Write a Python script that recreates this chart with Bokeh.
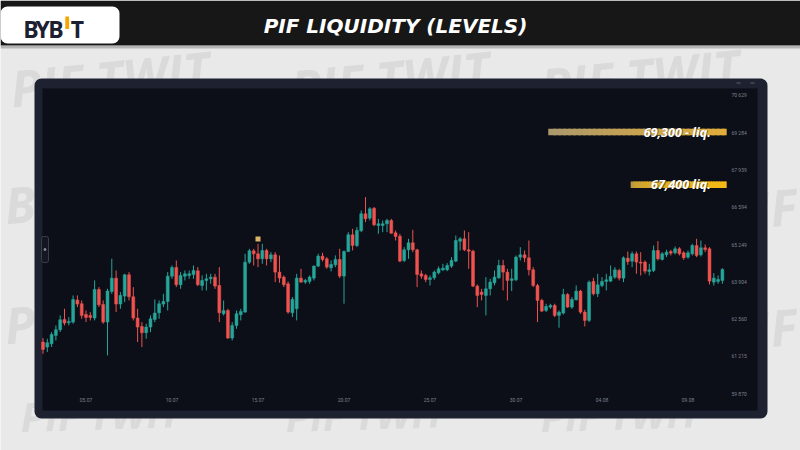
import numpy as np
import pandas as pd
from bokeh.plotting import figure
from bokeh.models import (Range1d, LinearAxis, DatetimeAxis, FixedTicker,
                          DatetimeTickFormatter, ColumnDataSource)
from bokeh.core.properties import value
from bokeh.embed import file_html
from bokeh.resources import INLINE

# ---------------- data ----------------
candle_start = "2024-07-02 12:00"
candle_step = "6h"

opens = [61734, 61554, 61674, 61974, 62178, 62550, 62430, 62454, 63246, 63114,
         62730, 62694, 62598, 63630, 63090, 62454, 63558, 64038, 63102, 63390,
         64158, 63366, 62598, 62298, 62070, 62274, 62550, 62790, 63102, 63198,
         64110, 64422, 63798, 64110, 64134, 64170, 64302, 63774, 63954, 64014,
         64074, 63774, 62754, 62874, 61878, 62334, 62718, 62814, 64614, 65022,
         64914, 64734, 65034, 64734, 64879, 64255, 64075, 63835, 62791, 62935,
         64039, 63895, 63919, 64039, 64471, 64831, 64735, 64411, 64519, 64711,
         64111, 64999, 65599, 65215, 65743, 66355, 66199, 66559, 65935, 65935,
         65995, 66114, 65670, 65550, 64674, 65058, 65310, 65058, 64194, 64134,
         63990, 64050, 64230, 64338, 64338, 64470, 64650, 65370, 65454, 65058,
         65010, 63750, 63534, 63414, 63654, 63870, 64050, 64494, 64254, 63954,
         63978, 64794, 64878, 64770, 64338, 63774, 63234, 62874, 62994, 63054,
         62694, 62778, 63450, 62994, 63258, 63570, 62814, 62514, 63918, 63474,
         63774, 63918, 63930, 64074, 64314, 64038, 64758, 64650, 64914, 64614,
         64614, 64278, 64314, 65034, 64710, 64878, 64998, 64950, 65094, 64950,
         64794, 64914, 65214, 64878, 65130, 65094, 63894, 63918, 63954]
highs = [61878, 61854, 62094, 62334, 62694, 62934, 62634, 63414, 63414, 63234,
         62874, 62814, 63954, 63714, 63234, 63654, 64734, 64314, 63534, 64194,
         64254, 63714, 62934, 62454, 62394, 62694, 63270, 63234, 63474, 64254,
         64494, 64674, 64254, 64314, 64314, 64494, 64434, 64134, 64194, 64194,
         64194, 64434, 63234, 62934, 62454, 62874, 62934, 64914, 65094, 65094,
         65274, 65274, 65094, 64974, 64975, 64855, 64135, 63919, 63355, 64195,
         64375, 64015, 64135, 64495, 64915, 64951, 64795, 64675, 64855, 65095,
         65035, 65695, 65815, 65875, 66475, 66955, 66595, 66595, 66175, 66115,
         66175, 66174, 65754, 65634, 65154, 65454, 65778, 65094, 64314, 64194,
         64134, 64314, 64458, 64554, 64578, 64794, 65574, 65514, 65754, 65694,
         65058, 63810, 63654, 64074, 64014, 64314, 64698, 64698, 64374, 64374,
         64854, 65154, 65034, 65394, 64434, 63834, 63294, 63114, 63114, 63114,
         62874, 63654, 63498, 63354, 63774, 63618, 62898, 63954, 64050, 64194,
         64074, 64194, 64494, 64434, 64374, 64818, 64998, 64998, 64998, 64974,
         64674, 64554, 65214, 65370, 64974, 65058, 65058, 65178, 65154, 65010,
         65034, 65274, 65454, 65394, 65250, 65154, 64218, 64134, 64398]
lows = [61314, 61374, 61554, 61794, 62094, 62334, 62334, 62394, 62994, 62574,
        62454, 62514, 62514, 62994, 62394, 61254, 63474, 62814, 62934, 63174,
        63234, 62514, 61734, 61554, 61854, 62094, 62454, 62574, 62994, 62874,
        64014, 63714, 63654, 63954, 64014, 64014, 63750, 63594, 63594, 63834,
        63654, 62454, 62694, 61854, 61794, 62214, 62514, 62790, 64554, 64494,
        64434, 64554, 64494, 64614, 63895, 63871, 63715, 62755, 62635, 62515,
        63871, 63835, 63835, 63955, 64435, 64639, 64375, 64279, 64435, 64039,
        63115, 64975, 65035, 65155, 65695, 66055, 66115, 65911, 65635, 65695,
        65695, 65634, 65394, 64614, 64614, 64734, 64974, 63714, 64014, 63894,
        63774, 63978, 64170, 64290, 64290, 64410, 64614, 65034, 65010, 64374,
        63714, 62994, 63234, 62694, 63414, 63774, 64014, 63594, 63234, 63570,
        63930, 64674, 64614, 64134, 63714, 62454, 62814, 62814, 62934, 62634,
        62250, 62730, 62970, 62934, 63234, 62754, 62298, 62454, 63414, 63354,
        63714, 63594, 63894, 64014, 63954, 63894, 64518, 64434, 64194, 64134,
        64194, 64134, 64254, 64674, 64674, 64794, 64854, 64890, 64854, 64698,
        64734, 64854, 64794, 64818, 64974, 63810, 63774, 63834, 63834]
closes = [61470, 61710, 62010, 62178, 62538, 62418, 62478, 63270, 63102, 62694,
          62622, 62622, 63630, 63078, 62454, 63570, 64038, 63102, 63414, 64158,
          63366, 62598, 62274, 62070, 62274, 62574, 62778, 63114, 63198, 64110,
          64422, 63798, 64134, 64194, 64194, 64314, 63798, 63954, 64014, 64074,
          63750, 62790, 62874, 61878, 62334, 62754, 62838, 64614, 65022, 64914,
          64734, 65034, 64734, 64878, 64255, 64039, 63799, 62815, 63271, 64039,
          63895, 63955, 64075, 64471, 64831, 64711, 64435, 64531, 64711, 64111,
          64999, 65599, 65215, 65755, 66355, 66175, 66535, 65959, 65995, 65995,
          66115, 65658, 65538, 64650, 65058, 65310, 65058, 64170, 64110, 63990,
          64050, 64254, 64374, 64398, 64494, 64674, 65394, 65454, 65058, 65010,
          63750, 63414, 63450, 63654, 63894, 64074, 64494, 64254, 63954, 64014,
          64794, 64878, 64770, 64338, 63774, 63234, 62850, 63018, 63054, 62694,
          62814, 63450, 62994, 63270, 63570, 62814, 62514, 63894, 63474, 63798,
          63918, 63978, 64098, 64338, 64038, 64770, 64638, 64914, 64614, 64578,
          64290, 64338, 65034, 64734, 64914, 64974, 64938, 65094, 64914, 64770,
          64950, 65214, 64854, 65130, 65070, 63930, 64038, 63990, 64350]

price_ticks = [70629, 69284, 67939, 66594, 65249, 63904, 62560, 61215, 59870]
price_tick_labels = ["70 629", "69 284", "67 939", "66 594", "65 249",
                     "63 904", "62 560", "61 215", "59 870"]
date_ticks = ["2024-07-05", "2024-07-10", "2024-07-15", "2024-07-20",
              "2024-07-25", "2024-07-30", "2024-08-04", "2024-08-09"]
date_tick_labels = ["05.07", "10.07", "15.07", "20.07", "25.07", "30.07", "04.08", "09.08"]

level_prices = [69300, 67400]
level_labels = ["69,300 - liq.", "67,400 liq."]
level_starts = ["2024-07-31 21:00", "2024-08-05 16:00"]
level_end = "2024-08-11 06:00"

marker_times = ["2024-07-15 00:00"]
marker_prices = [65450]

title_text = "PIF LIQUIDITY (LEVELS)"
logo_letters = ["B", "Y", "B", "T"]
watermark_words = ["PIF TWIT", "PIF TWIT", "PIF TWIT", "BYB", "PIF",
                   "PIF", "PIF", "PIF TWIT", "PIF TWIT", "PIF TWIT"]

# ---------------- layout constants ----------------
W, H = 800, 450
OFF = 0                     # reference pixel of canvas origin
DAY = 86400000.0
REF_T0, REF_X0, PX_PER_DAY = "2024-07-05", 85.5, 17.2
REF_P0, REF_Y0, PRICE_PER_PX = 70629.0, 94.7, 36.03

BG = "#e9e9e9"
UP, DOWN = "#26a69a", "#ef5350"


def ms(t):
    return pd.Timestamp(t).value / 1e6


t0 = ms(REF_T0)


def t_at(px):   # time at a reference pixel column
    return t0 + (px - REF_X0) / PX_PER_DAY * DAY


def p_at(py):   # price at a reference pixel row
    return REF_P0 - (py - REF_Y0) * PRICE_PER_PX


p = figure(width=W, height=H, output_backend="svg", toolbar_location=None,
           x_axis_location=None, y_axis_location=None,
           x_range=Range1d(t_at(OFF), t_at(OFF + W)),
           y_range=Range1d(p_at(OFF + H), p_at(OFF)),
           min_border=0, background_fill_color=BG, border_fill_color=BG,
           outline_line_color=None)
p.xgrid.grid_line_color = None
p.ygrid.grid_line_color = None
p.extra_x_ranges = {"px": Range1d(OFF, OFF + W)}
p.extra_y_ranges = {"py": Range1d(OFF + H, OFF)}

PX = dict(x_range_name="px", y_range_name="py")


def box(l, r, t, b, color, radius=0, alpha=1.0, line=None):
    p.quad(left=[l], right=[r], top=[t], bottom=[b], fill_color=color,
           fill_alpha=alpha, line_color=line, border_radius=radius, **PX)


def label(x, y, txt, size, color, font="Open Sans", style="bold", align="left",
          baseline="middle", angle=0.0, alpha=1.0):
    p.text(x=[x], y=[y], text=[txt], text_font=value(font), text_font_style=style,
           text_font_size=size, text_color=color, text_alpha=alpha,
           text_align=align, text_baseline=baseline, angle=angle, **PX)


# ---------------- background poster ----------------
wm_pos = [(10, 88), (290, 88), (540, 86), (4, 205), (796, 205),
          (4, 325), (796, 325), (20, 416), (285, 416), (540, 416)]
wm_align = ["left", "left", "left", "left", "right",
            "left", "right", "left", "left", "left"]
wm_size = ["50px"] * 7 + ["40px"] * 3
wm_angle = [0.1] * 7 + [0.03] * 3
for word, (wx, wy), al, sz, an in zip(watermark_words, wm_pos, wm_align, wm_size, wm_angle):
    label(wx, wy, word, sz, "#dadada", style="bold italic", angle=an, align=al)

box(0, 800, 0, 45, "#171717")
box(0, 800, 45, 48, "#8a8a8a", alpha=0.55)
box(0, 119, 6, 43, "#ffffff", radius=7)
for letter, lx in zip(logo_letters, [30.5, 42.2, 55.5, 76.8]):
    label(lx, 28, letter, "23px", "#1c2030", align="center")
box(64.8, 68.6, 16, 28.5, "#f7a600")
label(395, 25.5, title_text, "20px", "#ffffff", font="DejaVu Sans",
      style="bold italic", align="center")

# chart panel
box(34, 767, 78, 418, "#1d2130", radius=7)
box(42, 757, 88, 410, "#0c0f17")
box(41, 48, 236, 262, "#141722", radius=2, line="#3a3e4b")
p.scatter(x=[44.5], y=[249], size=2, color="#8a8f9c", **PX)
p.scatter(x=[738, 752], y=[82.5, 82.5], marker="dash", size=4, color="#5d6270", **PX)

# ---------------- liquidity levels ----------------
grad_from = [(170, 152, 110), (155, 136, 84)]
grad_to = [(226, 174, 58), (246, 186, 22)]
grad_power = [0.9, 0.25]
end_ms = ms(level_end)
for lp, ls, c0, c1, gp in zip(level_prices, level_starts, grad_from, grad_to, grad_power):
    n = 36
    edges = np.linspace(ms(ls), end_ms, n + 1)
    step = edges[1] - edges[0]
    cols = []
    for k in range(n):
        f = ((k + 0.5) / n) ** gp
        cols.append("#%02x%02x%02x" % tuple(int(a + (b - a) * f) for a, b in zip(c0, c1)))
    x1 = np.minimum(edges[1:] + 0.6 * step, end_ms)
    p.segment(x0=edges[:-1], x1=x1, y0=[lp] * n, y1=[lp] * n,
              line_color=cols, line_width=6.5, line_cap="butt")

for lp, lt in zip(level_prices, level_labels):
    p.text(x=[end_ms], y=[lp], text=[lt], x_offset=-15, y_offset=0.8,
           text_font=value("Open Sans"), text_font_style="bold italic",
           text_font_size="12.5px", text_color="#000000", text_alpha=0.45,
           text_align="right", text_baseline="middle")
    p.text(x=[end_ms], y=[lp], text=[lt], x_offset=-16,
           text_font=value("Open Sans"), text_font_style="bold italic",
           text_font_size="12.5px", text_color="#ffffff",
           text_align="right", text_baseline="middle")

# ---------------- candles ----------------
times = [ms(t) for t in pd.date_range(candle_start, periods=len(opens), freq=candle_step)]
o, h, l, c = map(np.array, (opens, highs, lows, closes))
src = ColumnDataSource(dict(
    t=times, o=o, h=h, l=l, c=c,
    top=np.maximum(o, c), bottom=np.minimum(o, c),
    color=[UP if cc >= oo else DOWN for oo, cc in zip(o, c)],
))
p.segment(x0="t", x1="t", y0="l", y1="h", line_color="color", line_width=1, source=src)
p.vbar(x="t", width=0.68 * DAY / 4, top="top", bottom="bottom",
       fill_color="color", line_color="color", line_width=0.5, source=src)

p.scatter(x=[ms(t) for t in marker_times], y=marker_prices, marker="square",
          size=5, fill_color="#dcb466", line_color=None)

# ---------------- axes ----------------
yaxis = LinearAxis(ticker=FixedTicker(ticks=price_ticks),
                   major_label_overrides={int(v): s for v, s in zip(price_ticks, price_tick_labels)},
                   fixed_location=t_at(729))
xaxis = DatetimeAxis(ticker=FixedTicker(ticks=[ms(d) for d in date_ticks]),
                     formatter=DatetimeTickFormatter(days="%d.%m", months="%d.%m",
                                                     hours="%d.%m", years="%d.%m"),
                     major_label_overrides={ms(d): s for d, s in zip(date_ticks, date_tick_labels)},
                     fixed_location=p_at(395))
for ax in (yaxis, xaxis):
    ax.axis_line_color = None
    ax.major_tick_line_color = None
    ax.minor_tick_line_color = None
    ax.major_tick_out = 0
    ax.major_tick_in = 0
    ax.major_label_standoff = 2
    ax.major_label_text_font = "Roboto"
    ax.major_label_text_font_size = "5px"
    ax.major_label_text_color = "#7d8291"
p.add_layout(yaxis, "right")
p.add_layout(xaxis, "below")

open("out.html", "w").write(file_html(p, INLINE))
